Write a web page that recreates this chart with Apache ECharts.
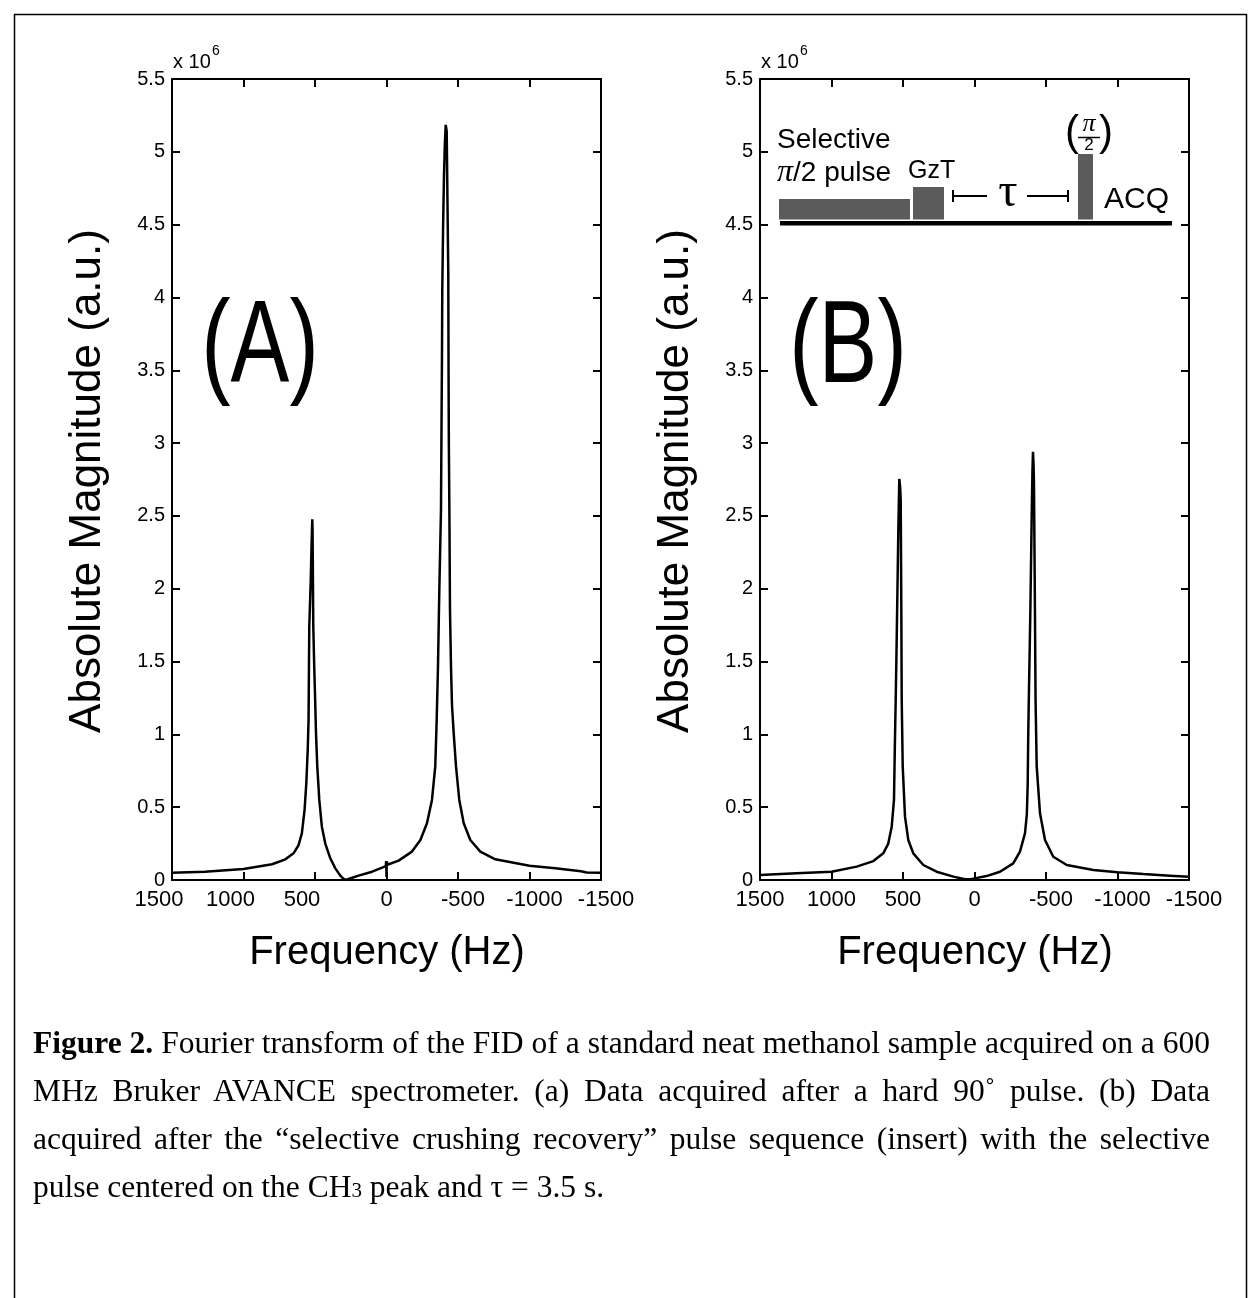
<!DOCTYPE html>
<html>
<head>
<meta charset="utf-8">
<script src="https://cdn.jsdelivr.net/npm/echarts@6/dist/echarts.min.js"></script>
<style>
html,body{margin:0;padding:0;background:#fff;}
#chart{position:absolute;left:0;top:0;width:1248px;height:1298px;}
#cap{position:absolute;left:33px;top:1019px;width:1177px;font-family:'Liberation Serif','Times New Roman',serif;font-size:31.5px;line-height:48px;color:#000;}
#cap .j{text-align:justify;text-align-last:justify;}
#cap .l{text-align:left;}
</style>
</head>
<body>
<div id="chart"></div>
<div id="cap">
<div class="j"><b>Figure 2.</b> Fourier transform of the FID of a standard neat methanol sample acquired on a 600</div>
<div class="j">MHz Bruker AVANCE spectrometer. (a) Data acquired after a hard 90˚ pulse. (b) Data</div>
<div class="j">acquired after the “selective crushing recovery” pulse sequence (insert) with the selective</div>
<div class="l">pulse centered on the CH<span style="font-size:21px">3</span> peak and τ = 3.5 s.</div>
</div>
<script>
// Panel A: hard 90 degree pulse (frequency in Hz, magnitude in units of 1e6 a.u.)
const freqA = [1500,1270,1000,800,707,650,615,592,573,561,551,545,543,540,530,524,519,517,512,505,499,493,484,470,452,428,393,358,323,300,285,250,195,101,30,5,2,1,0,-1,-3,-6,-85,-178,-237,-283,-318,-341,-351,-360,-369,-381,-385,-388,-390,-396,-402,-408,-414,-418,-421,-427,-432,-434,-436,-440,-444,-451,-458,-470,-486,-509,-540,-586,-656,-761,-1000,-1180,-1360,-1400,-1500];
const magA  = [0.050,0.057,0.076,0.108,0.142,0.183,0.24,0.32,0.48,0.66,0.89,1.10,1.37,1.74,2.05,2.30,2.477,2.40,1.74,1.45,1.24,1.007,0.78,0.55,0.366,0.25,0.149,0.08,0.03,0.007,0.0,0.012,0.03,0.057,0.085,0.095,0.13,0.09,0.02,0.09,0.125,0.105,0.133,0.195,0.275,0.39,0.55,0.78,1.10,1.465,1.97,2.54,3.16,3.6,4.05,4.5,4.84,5.05,5.185,5.16,5.14,4.6,4.17,3.5,3.0,2.5,1.85,1.465,1.2,1.007,0.78,0.55,0.39,0.275,0.195,0.142,0.098,0.08,0.06,0.052,0.05];
// Panel B: selective crushing recovery sequence
const freqB = [1500,1244,1000,824,707,638,603,579,563,557,551,547,540,533,526,520,516,512,509,502,486,463,428,358,265,148,66,60,30,-2,-84,-178,-271,-318,-353,-366,-372,-376,-381,-390,-400,-405,-409,-413,-416,-423,-427,-435,-458,-493,-551,-645,-831,-1000,-1181,-1367,-1500];
const magB  = [0.034,0.046,0.057,0.092,0.13,0.183,0.25,0.366,0.55,0.92,1.24,1.47,1.92,2.38,2.754,2.70,2.61,1.92,1.24,0.78,0.435,0.275,0.183,0.103,0.057,0.023,0.005,0.002,0.006,0.011,0.027,0.057,0.114,0.195,0.32,0.45,0.66,1.01,1.31,1.81,2.5,2.8,2.94,2.85,2.72,1.81,1.236,0.78,0.458,0.275,0.16,0.103,0.069,0.053,0.041,0.03,0.022];
// Axis ticks
const xMin = -1500, xMax = 1500, xStep = 500;
const yMin = 0, yMax = 5.5, yStep = 0.5;
const panelLabels = ['(A)', '(B)'];

const chart = echarts.init(document.getElementById('chart'), null, {renderer:'canvas'});
const SANS = "'Liberation Sans', Arial, Helvetica, sans-serif";
const SERIF = "'Liberation Serif', 'Times New Roman', serif";
const gridL = [172, 760];
const gridW = 429, gridT = 79, gridH = 801;
const XF = 22;

function xAxisDef(gi, top, shiftPos){
  return {
    gridIndex: gi, type:'value', min:xMin, max:xMax, interval:xStep, inverse:true,
    position: top ? 'top' : 'bottom',
    axisLine:{show:true, onZero:false, lineStyle:{color:'#000', width:2}},
    axisTick:{show:true, inside:true, length:8, lineStyle:{color:'#000', width:2}},
    splitLine:{show:false},
    axisLabel: top ? {show:false} : {
      show:true, color:'#000', fontSize:XF, fontFamily:SANS, margin:9,
      showMinLabel:true, showMaxLabel:true,
      formatter: function(v){
        if (v > 0 && shiftPos) return '{p|' + v + '}';
        if (v < 0) return '{n|' + v + '}';
        return '{z|' + v + '}';
      },
      rich:{
        p:{fontSize:XF, fontFamily:SANS, color:'#000', padding:[0,26,0,0]},
        n:{fontSize:XF, fontFamily:SANS, color:'#000', padding:[0,0,0,10]},
        z:{fontSize:XF, fontFamily:SANS, color:'#000'}
      }
    }
  };
}
function yAxisDef(gi, right){
  return {
    gridIndex: gi, type:'value', min:yMin, max:yMax, interval:yStep,
    position: right ? 'right' : 'left',
    axisLine:{show:true, onZero:false, lineStyle:{color:'#000', width:2}},
    axisTick:{show:true, inside:true, length:8, lineStyle:{color:'#000', width:2}},
    splitLine:{show:false},
    axisLabel: right ? {show:false} : {show:true, color:'#000', fontSize:20, fontFamily:SANS, margin:7,
      showMinLabel:true, showMaxLabel:true}
  };
}
function pairs(f, m){ return f.map((x,i)=>[x, m[i]]); }

const graphics = [];
// figure border
graphics.push({type:'rect', shape:{x:14.5, y:14.5, width:1232, height:1300}, style:{fill:null, stroke:'#000', lineWidth:1.5}, silent:true});
for (let p=0; p<2; p++){
  const L = gridL[p];
  // x 10^6
  graphics.push({type:'text', x:L+1, y:62, style:{text:'x 10', font:'20px '+SANS, fill:'#000', verticalAlign:'middle', align:'left'}});
  graphics.push({type:'text', x:L+40, y:51, style:{text:'6', font:'14px '+SANS, fill:'#000', verticalAlign:'middle', align:'left'}});
  // y title
  graphics.push({type:'text', x:L-84, y:481, rotation:Math.PI/2, style:{text:'Absolute Magnitude (a.u.)', font:'44px '+SANS, fill:'#000', align:'center', verticalAlign:'middle'}});
  // x title
  graphics.push({type:'text', x:L+215, y:953, style:{text:'Frequency (Hz)', font:'40px '+SANS, fill:'#000', align:'center', verticalAlign:'middle'}});
  // panel label
  graphics.push({type:'text', x:L+88, y:350, scaleX:0.76, style:{text:panelLabels[p], font:'116px '+SANS, fill:'#000', align:'center', verticalAlign:'middle'}});
}
// Pulse sequence insert (panel B)
const G = '#5b5b5b';
graphics.push({type:'rect', shape:{x:780, y:221, width:392, height:4.5}, style:{fill:'#000'}});
graphics.push({type:'rect', shape:{x:779, y:199, width:131, height:20.5}, style:{fill:G}});
graphics.push({type:'rect', shape:{x:913, y:187, width:31, height:32.5}, style:{fill:G}});
graphics.push({type:'rect', shape:{x:1078, y:154, width:15, height:65.5}, style:{fill:G}});
graphics.push({type:'text', x:777, y:140, style:{text:'Selective', font:'28px '+SANS, fill:'#000', align:'left', verticalAlign:'middle'}});
graphics.push({type:'text', x:777, y:173, style:{text:'{pi|π}/2 pulse', font:'28px '+SANS, fill:'#000', align:'left', verticalAlign:'middle',
  rich:{pi:{font:'italic 32px '+SERIF, fill:'#000'}}}});
graphics.push({type:'text', x:908, y:171, style:{text:'GzT', font:'25px '+SANS, fill:'#000', align:'left', verticalAlign:'middle'}});
graphics.push({type:'line', shape:{x1:953, y1:196, x2:987, y2:196}, style:{stroke:'#000', lineWidth:2}});
graphics.push({type:'line', shape:{x1:953, y1:190, x2:953, y2:202}, style:{stroke:'#000', lineWidth:2}});
graphics.push({type:'line', shape:{x1:1027, y1:196, x2:1068, y2:196}, style:{stroke:'#000', lineWidth:2}});
graphics.push({type:'line', shape:{x1:1068, y1:190, x2:1068, y2:202}, style:{stroke:'#000', lineWidth:2}});
graphics.push({type:'text', x:1008, y:193, style:{text:'τ', font:'48px '+SERIF, fill:'#000', align:'center', verticalAlign:'middle'}});
graphics.push({type:'text', x:1072, y:133, style:{text:'(', font:'42px '+SANS, fill:'#000', align:'center', verticalAlign:'middle'}});
graphics.push({type:'text', x:1106, y:133, style:{text:')', font:'42px '+SANS, fill:'#000', align:'center', verticalAlign:'middle'}});
graphics.push({type:'text', x:1089, y:124, style:{text:'π', font:'italic 26px '+SERIF, fill:'#000', align:'center', verticalAlign:'middle'}});
graphics.push({type:'line', shape:{x1:1078, y1:137.5, x2:1100, y2:137.5}, style:{stroke:'#000', lineWidth:1.5}});
graphics.push({type:'text', x:1089, y:145.5, style:{text:'2', font:'17px '+SANS, fill:'#000', align:'center', verticalAlign:'middle'}});
graphics.push({type:'text', x:1104, y:200, style:{text:'ACQ', font:'30px '+SANS, fill:'#000', align:'left', verticalAlign:'middle'}});

const option = {
  animation:false,
  backgroundColor:'#fff',
  grid:[
    {left:gridL[0], top:gridT, width:gridW, height:gridH, containLabel:false},
    {left:gridL[1], top:gridT, width:gridW, height:gridH, containLabel:false}
  ],
  xAxis:[xAxisDef(0,false,true), xAxisDef(0,true,true), xAxisDef(1,false,false), xAxisDef(1,true,false)],
  yAxis:[yAxisDef(0,false), yAxisDef(0,true), yAxisDef(1,false), yAxisDef(1,true)],
  series:[
    {type:'line', name:'A', xAxisIndex:0, yAxisIndex:0, data:pairs(freqA, magA), showSymbol:false, symbol:'none', smooth:false,
      lineStyle:{color:'#000', width:2.5}, z:3},
    {type:'line', name:'B', xAxisIndex:2, yAxisIndex:2, data:pairs(freqB, magB), showSymbol:false, symbol:'none', smooth:false,
      lineStyle:{color:'#000', width:2.5}, z:3}
  ],
  graphic:{elements:graphics}
};
chart.setOption(option);
</script>
</body>
</html>
